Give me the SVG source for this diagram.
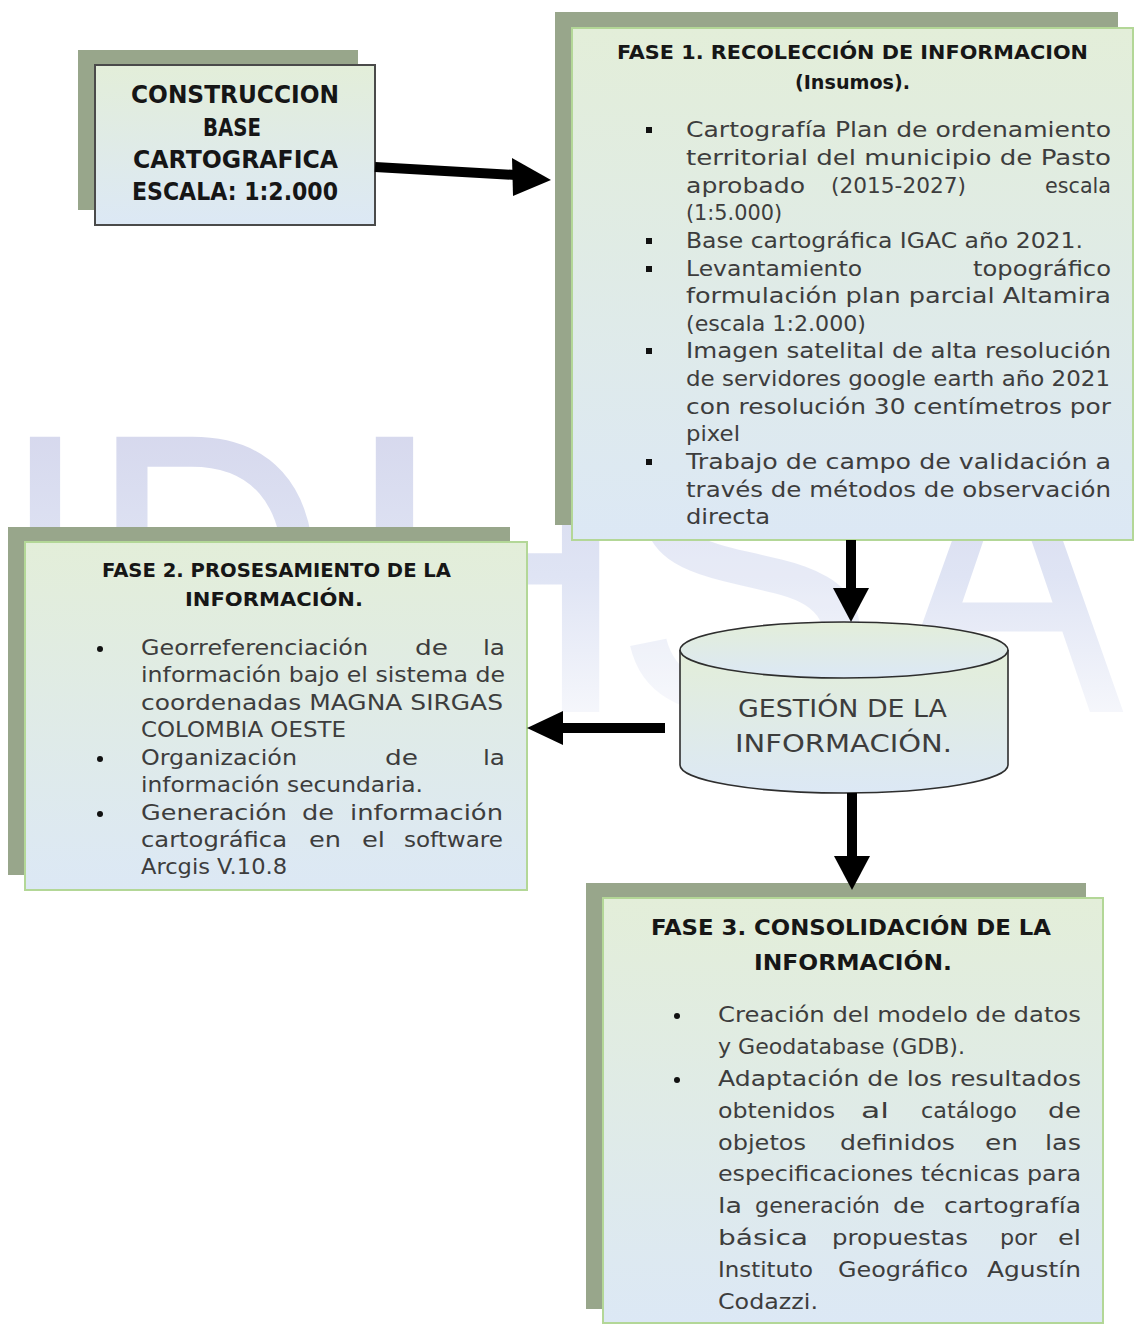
<svg xmlns="http://www.w3.org/2000/svg" width="1135" height="1324" viewBox="0 0 1135 1324">
<defs>
  <linearGradient id="boxfill" x1="0" y1="0" x2="0" y2="1">
    <stop offset="0" stop-color="#e3eed9"/>
    <stop offset="1" stop-color="#dce8f5"/>
  </linearGradient>
  <linearGradient id="wm" gradientUnits="userSpaceOnUse" x1="0" y1="426" x2="0" y2="725">
    <stop offset="0" stop-color="#d6d8ed"/>
    <stop offset="0.5" stop-color="#dfe4f4"/>
    <stop offset="1" stop-color="#f7f8fc"/>
  </linearGradient>
</defs>
<style>
  .shadow{fill:#98a68b}
  .box{fill:url(#boxfill);stroke:#b3d797;stroke-width:2}
  .box1{fill:url(#boxfill);stroke:#4a4a4a;stroke-width:2}
  .cyl{fill:url(#boxfill);stroke:#2e2e2e;stroke-width:1.6}
  .t{font-family:"DejaVu Sans",sans-serif;font-weight:bold;fill:#161616}
  .b{font-family:"DejaVu Sans",sans-serif;fill:#3d3d3d}
  .s22{font-size:22px}
  .s21{font-size:21px}
  .ln{stroke:#000;stroke-width:10;fill:none}
  .hd{fill:#000}
  .sq{fill:#111}
</style>
<rect width="1135" height="1324" fill="#ffffff"/>

<g id="watermark" font-family="Liberation Sans, sans-serif" font-size="400" fill="url(#wm)">
  <text x="0" y="712" textLength="90" lengthAdjust="spacingAndGlyphs">I</text>
  <text x="89" y="712" textLength="241" lengthAdjust="spacingAndGlyphs">D</text>
  <text x="343" y="712">H</text>
  <text x="612" y="712" opacity="0.75">S</text>
  <text x="890" y="712" textLength="234" lengthAdjust="spacingAndGlyphs">A</text>
</g>

<g id="node-construccion">
  <rect class="shadow" x="78" y="50" width="280" height="160"/>
  <rect class="box1" x="95" y="65" width="280" height="160"/>
  <text class="t" font-size="24" x="131" y="103" textLength="208" lengthAdjust="spacingAndGlyphs">CONSTRUCCION</text>
  <text class="t" font-size="24" x="203" y="136" textLength="58" lengthAdjust="spacingAndGlyphs">BASE</text>
  <text class="t" font-size="24" x="133" y="168" textLength="205" lengthAdjust="spacingAndGlyphs">CARTOGRAFICA</text>
  <text class="t" font-size="24" x="132" y="200" textLength="206" lengthAdjust="spacingAndGlyphs">ESCALA: 1:2.000</text>
</g>

<g id="node-fase1">
  <rect class="shadow" x="555" y="12" width="563" height="513"/>
  <rect class="box" x="572" y="28" width="561" height="512"/>
  <text class="t" font-size="20" x="617" y="59" textLength="471" lengthAdjust="spacingAndGlyphs">FASE 1. RECOLECCIÓN DE INFORMACION</text>
  <text class="t" font-size="20" x="795" y="89" textLength="115" lengthAdjust="spacingAndGlyphs">(Insumos).</text>
  <rect class="sq" x="646" y="127" width="6" height="6"/>
  <rect class="sq" x="646" y="238" width="6" height="6"/>
  <rect class="sq" x="646" y="266" width="6" height="6"/>
  <rect class="sq" x="646" y="348" width="6" height="6"/>
  <rect class="sq" x="646" y="459" width="6" height="6"/>
  <g class="b s22">
    <text x="686" y="137" textLength="425" lengthAdjust="spacingAndGlyphs">Cartografía Plan de ordenamiento</text>
    <text x="686" y="165" textLength="425" lengthAdjust="spacingAndGlyphs">territorial del municipio de Pasto</text>
    <text x="686" y="193" textLength="119" lengthAdjust="spacingAndGlyphs">aprobado</text>
    <text x="831" y="193" textLength="135" lengthAdjust="spacingAndGlyphs">(2015-2027)</text>
    <text x="1045" y="193" textLength="66" lengthAdjust="spacingAndGlyphs">escala</text>
    <text x="686" y="220" textLength="96" lengthAdjust="spacingAndGlyphs">(1:5.000)</text>
    <text x="686" y="248" textLength="397" lengthAdjust="spacingAndGlyphs">Base cartográfica IGAC año 2021.</text>
    <text x="686" y="276" textLength="176" lengthAdjust="spacingAndGlyphs">Levantamiento</text>
    <text x="973" y="276" textLength="138" lengthAdjust="spacingAndGlyphs">topográfico</text>
    <text x="686" y="303" textLength="425" lengthAdjust="spacingAndGlyphs">formulación plan parcial Altamira</text>
    <text x="686" y="331" textLength="180" lengthAdjust="spacingAndGlyphs">(escala 1:2.000)</text>
    <text x="686" y="358" textLength="425" lengthAdjust="spacingAndGlyphs">Imagen satelital de alta resolución</text>
    <text x="686" y="386" textLength="424" lengthAdjust="spacingAndGlyphs">de servidores google earth año 2021</text>
    <text x="686" y="414" textLength="425" lengthAdjust="spacingAndGlyphs">con resolución 30 centímetros por</text>
    <text x="686" y="441" textLength="54" lengthAdjust="spacingAndGlyphs">pixel</text>
    <text x="686" y="469" textLength="425" lengthAdjust="spacingAndGlyphs">Trabajo de campo de validación a</text>
    <text x="686" y="497" textLength="425" lengthAdjust="spacingAndGlyphs">través de métodos de observación</text>
    <text x="686" y="524" textLength="84" lengthAdjust="spacingAndGlyphs">directa</text>
  </g>
</g>

<g id="node-fase2">
  <rect class="shadow" x="8" y="527" width="502" height="348"/>
  <rect class="box" x="25" y="542" width="502" height="348"/>
  <text class="t" font-size="19" x="102" y="577" textLength="349" lengthAdjust="spacingAndGlyphs">FASE 2. PROSESAMIENTO DE LA</text>
  <text class="t" font-size="19" x="185" y="606" textLength="178" lengthAdjust="spacingAndGlyphs">INFORMACIÓN.</text>
  <circle class="sq" cx="100" cy="649" r="3"/>
  <circle class="sq" cx="100" cy="759" r="3"/>
  <circle class="sq" cx="100" cy="814" r="3"/>
  <g class="b s21">
    <text x="141" y="655" textLength="227" lengthAdjust="spacingAndGlyphs">Georreferenciación</text>
    <text x="415" y="655" textLength="33" lengthAdjust="spacingAndGlyphs">de</text>
    <text x="483" y="655" textLength="22" lengthAdjust="spacingAndGlyphs">la</text>
    <text x="141" y="682" textLength="364" lengthAdjust="spacingAndGlyphs">información bajo el sistema de</text>
    <text x="141" y="710" textLength="362" lengthAdjust="spacingAndGlyphs">coordenadas MAGNA SIRGAS</text>
    <text x="141" y="737" textLength="205" lengthAdjust="spacingAndGlyphs">COLOMBIA OESTE</text>
    <text x="141" y="765" textLength="156" lengthAdjust="spacingAndGlyphs">Organización</text>
    <text x="385" y="765" textLength="33" lengthAdjust="spacingAndGlyphs">de</text>
    <text x="483" y="765" textLength="22" lengthAdjust="spacingAndGlyphs">la</text>
    <text x="141" y="792" textLength="282" lengthAdjust="spacingAndGlyphs">información secundaria.</text>
    <text x="141" y="820" textLength="146" lengthAdjust="spacingAndGlyphs">Generación</text>
    <text x="302" y="820" textLength="32" lengthAdjust="spacingAndGlyphs">de</text>
    <text x="350" y="820" textLength="153" lengthAdjust="spacingAndGlyphs">información</text>
    <text x="141" y="847" textLength="146" lengthAdjust="spacingAndGlyphs">cartográfica</text>
    <text x="309" y="847" textLength="32" lengthAdjust="spacingAndGlyphs">en</text>
    <text x="362" y="847" textLength="23" lengthAdjust="spacingAndGlyphs">el</text>
    <text x="404" y="847" textLength="99" lengthAdjust="spacingAndGlyphs">software</text>
    <text x="141" y="874" textLength="146" lengthAdjust="spacingAndGlyphs">Arcgis V.10.8</text>
  </g>
</g>

<g id="node-gestion">
  <path class="cyl" d="M680,650 L680,765 A164,28 0 0 0 1008,765 L1008,650"/>
  <ellipse class="cyl" cx="844" cy="650" rx="164" ry="28"/>
  <text class="b" font-size="24" fill="#333" x="738" y="717" textLength="209" lengthAdjust="spacingAndGlyphs">GESTIÓN DE LA</text>
  <text class="b" font-size="24" fill="#333" x="735" y="752" textLength="217" lengthAdjust="spacingAndGlyphs">INFORMACIÓN.</text>
</g>

<g id="node-fase3">
  <rect class="shadow" x="586" y="883" width="500" height="426"/>
  <rect class="box" x="603" y="898" width="500" height="425"/>
  <text class="t" font-size="22" x="651" y="935" textLength="400" lengthAdjust="spacingAndGlyphs">FASE 3. CONSOLIDACIÓN DE LA</text>
  <text class="t" font-size="22" x="754" y="970" textLength="198" lengthAdjust="spacingAndGlyphs">INFORMACIÓN.</text>
  <circle class="sq" cx="677" cy="1016" r="3"/>
  <circle class="sq" cx="677" cy="1080" r="3"/>
  <g class="b s22">
    <text x="718" y="1022" textLength="363" lengthAdjust="spacingAndGlyphs">Creación del modelo de datos</text>
    <text x="718" y="1054" textLength="247" lengthAdjust="spacingAndGlyphs">y Geodatabase (GDB).</text>
    <text x="718" y="1086" textLength="363" lengthAdjust="spacingAndGlyphs">Adaptación de los resultados</text>
    <text x="718" y="1118" textLength="117" lengthAdjust="spacingAndGlyphs">obtenidos</text>
    <text x="861" y="1118" textLength="28" lengthAdjust="spacingAndGlyphs">al</text>
    <text x="921" y="1118" textLength="96" lengthAdjust="spacingAndGlyphs">catálogo</text>
    <text x="1048" y="1118" textLength="33" lengthAdjust="spacingAndGlyphs">de</text>
    <text x="718" y="1150" textLength="88" lengthAdjust="spacingAndGlyphs">objetos</text>
    <text x="840" y="1150" textLength="115" lengthAdjust="spacingAndGlyphs">definidos</text>
    <text x="985" y="1150" textLength="33" lengthAdjust="spacingAndGlyphs">en</text>
    <text x="1045" y="1150" textLength="36" lengthAdjust="spacingAndGlyphs">las</text>
    <text x="718" y="1181" textLength="363" lengthAdjust="spacingAndGlyphs">especificaciones técnicas para</text>
    <text x="718" y="1213" textLength="24" lengthAdjust="spacingAndGlyphs">la</text>
    <text x="755" y="1213" textLength="125" lengthAdjust="spacingAndGlyphs">generación</text>
    <text x="893" y="1213" textLength="32" lengthAdjust="spacingAndGlyphs">de</text>
    <text x="944" y="1213" textLength="137" lengthAdjust="spacingAndGlyphs">cartografía</text>
    <text x="718" y="1245" textLength="90" lengthAdjust="spacingAndGlyphs">básica</text>
    <text x="832" y="1245" textLength="136" lengthAdjust="spacingAndGlyphs">propuestas</text>
    <text x="1000" y="1245" textLength="37" lengthAdjust="spacingAndGlyphs">por</text>
    <text x="1058" y="1245" textLength="23" lengthAdjust="spacingAndGlyphs">el</text>
    <text x="718" y="1277" textLength="95" lengthAdjust="spacingAndGlyphs">Instituto</text>
    <text x="838" y="1277" textLength="130" lengthAdjust="spacingAndGlyphs">Geográfico</text>
    <text x="987" y="1277" textLength="94" lengthAdjust="spacingAndGlyphs">Agustín</text>
    <text x="718" y="1309" textLength="100" lengthAdjust="spacingAndGlyphs">Codazzi.</text>
  </g>
</g>

<g id="connectors">
  <line class="ln" x1="375" y1="167" x2="516" y2="175"/>
  <polygon class="hd" points="512,158 551,180 513,196"/>
  <line class="ln" x1="851" y1="540" x2="851" y2="592"/>
  <polygon class="hd" points="833,588 869,588 851,622"/>
  <line class="ln" x1="665" y1="728" x2="558" y2="728"/>
  <polygon class="hd" points="563,711 563,745 527,728"/>
  <line class="ln" x1="852" y1="793" x2="852" y2="860"/>
  <polygon class="hd" points="834,856 870,856 852,890"/>
</g>
</svg>
